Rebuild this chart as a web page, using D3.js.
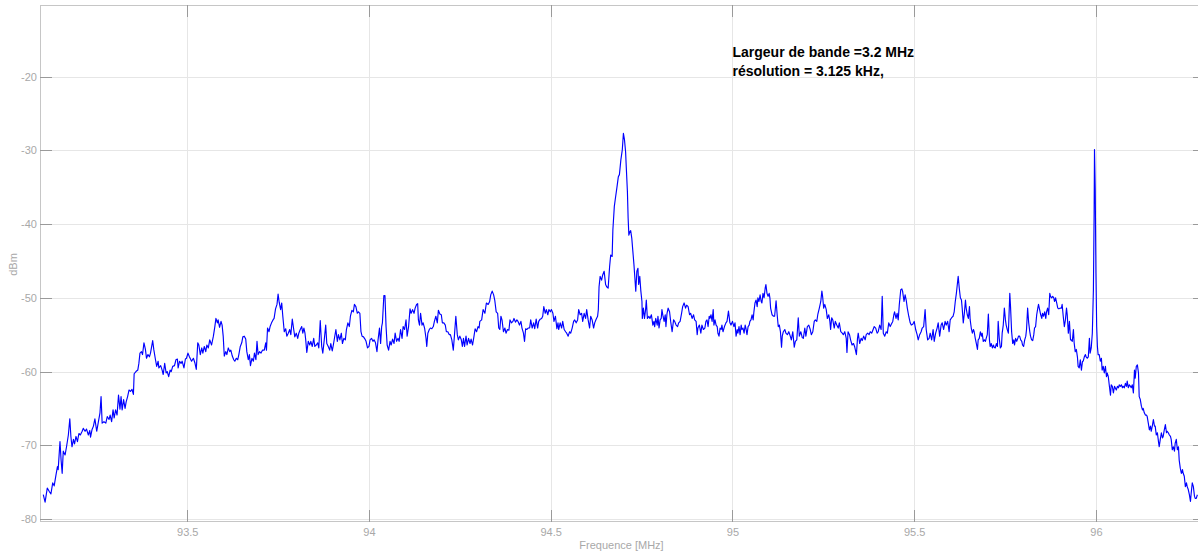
<!DOCTYPE html>
<html>
<head>
<meta charset="utf-8">
<script src="https://cdn.jsdelivr.net/npm/d3@7"></script>
<style>
html, body { margin: 0; padding: 0; background: #fff; overflow: hidden; }
svg { display: block; }
text { font-family: "Liberation Sans", Arial, Helvetica, sans-serif; }
</style>
</head>
<body>
<svg id="chart" width="1198" height="554"></svg>
<script>
// Measured spectrum: [frequency (MHz), level (dBm)]
const spectrumPoints = [
[93.104,-76.7],[93.109,-77.7],[93.115,-75.8],[93.121,-76.3],[93.125,-76.6],[93.130,-75.1],[93.134,-75.5],[93.139,-74.0],
[93.143,-72.9],[93.145,-73.3],[93.150,-69.5],[93.153,-72.0],[93.156,-73.8],[93.159,-70.8],[93.164,-71.3],[93.168,-70.2],
[93.173,-68.6],[93.177,-66.4],[93.180,-68.8],[93.183,-70.2],[93.187,-69.2],[93.190,-69.8],[93.194,-68.8],[93.198,-69.5],
[93.202,-68.4],[93.206,-68.6],[93.211,-68.1],[93.214,-67.7],[93.219,-68.1],[93.223,-67.8],[93.228,-68.6],[93.232,-68.0],
[93.234,-68.9],[93.238,-67.9],[93.242,-67.4],[93.246,-66.4],[93.251,-68.1],[93.255,-67.0],[93.260,-65.6],[93.263,-63.4],
[93.266,-67.0],[93.271,-66.8],[93.276,-67.0],[93.280,-66.1],[93.285,-66.5],[93.288,-65.9],[93.292,-66.8],[93.296,-65.2],
[93.299,-66.3],[93.303,-65.2],[93.307,-65.9],[93.311,-63.2],[93.315,-65.1],[93.318,-63.4],[93.321,-65.2],[93.325,-63.8],
[93.329,-65.0],[93.332,-64.1],[93.336,-63.4],[93.340,-62.5],[93.344,-62.7],[93.348,-62.4],[93.352,-63.1],[93.354,-60.3],
[93.359,-60.0],[93.364,-59.8],[93.367,-58.9],[93.370,-57.5],[93.374,-57.3],[93.377,-57.7],[93.381,-56.1],[93.385,-57.0],
[93.388,-58.2],[93.392,-57.7],[93.396,-58.0],[93.399,-57.5],[93.405,-55.8],[93.408,-57.0],[93.412,-58.2],[93.416,-59.3],
[93.420,-58.6],[93.422,-59.5],[93.427,-59.2],[93.431,-59.8],[93.434,-60.4],[93.438,-58.9],[93.442,-60.2],[93.445,-60.0],
[93.449,-60.7],[93.453,-59.8],[93.456,-60.0],[93.460,-59.3],[93.465,-59.2],[93.469,-58.4],[93.473,-58.3],[93.475,-59.5],
[93.479,-58.6],[93.483,-58.9],[93.486,-58.6],[93.491,-59.5],[93.495,-58.3],[93.498,-58.2],[93.502,-57.5],[93.506,-58.0],
[93.512,-58.6],[93.517,-58.2],[93.521,-58.8],[93.525,-59.7],[93.529,-56.1],[93.532,-56.4],[93.536,-57.7],[93.540,-56.8],
[93.543,-57.5],[93.547,-56.6],[93.551,-57.3],[93.554,-56.4],[93.558,-56.8],[93.562,-55.7],[93.567,-56.4],[93.572,-55.2],
[93.576,-53.9],[93.579,-52.8],[93.583,-53.4],[93.585,-53.0],[93.589,-54.0],[93.593,-53.2],[93.596,-53.7],[93.599,-55.2],
[93.602,-57.9],[93.606,-57.3],[93.609,-57.7],[93.613,-56.8],[93.617,-57.3],[93.620,-57.1],[93.624,-57.9],[93.628,-58.4],
[93.631,-58.6],[93.635,-58.2],[93.639,-58.4],[93.642,-57.7],[93.646,-56.6],[93.650,-56.1],[93.653,-55.3],[93.657,-55.2],
[93.661,-55.6],[93.664,-57.3],[93.668,-58.4],[93.671,-57.7],[93.674,-59.2],[93.678,-58.2],[93.682,-58.6],[93.685,-57.5],
[93.689,-58.4],[93.692,-55.9],[93.695,-57.7],[93.699,-57.3],[93.703,-57.5],[93.707,-57.1],[93.712,-57.1],[93.716,-56.1],
[93.718,-57.1],[93.721,-54.1],[93.725,-54.6],[93.728,-53.9],[93.732,-53.4],[93.736,-53.0],[93.739,-52.8],[93.743,-51.5],
[93.747,-50.9],[93.750,-49.5],[93.753,-50.6],[93.757,-51.6],[93.760,-50.7],[93.763,-52.5],[93.767,-54.6],[93.771,-54.2],
[93.774,-55.2],[93.778,-54.8],[93.782,-54.3],[93.785,-55.0],[93.789,-52.9],[93.793,-54.3],[93.796,-55.3],[93.800,-54.8],
[93.804,-55.5],[93.807,-54.8],[93.811,-54.3],[93.815,-53.9],[93.818,-54.8],[93.821,-54.1],[93.824,-54.8],[93.826,-55.7],
[93.829,-57.4],[93.833,-55.9],[93.837,-56.4],[93.840,-55.9],[93.844,-56.6],[93.848,-55.5],[93.851,-56.6],[93.855,-56.4],
[93.859,-56.1],[93.862,-56.8],[93.866,-53.1],[93.870,-56.6],[93.873,-57.5],[93.877,-55.7],[93.881,-53.7],[93.884,-56.2],
[93.888,-56.6],[93.892,-57.1],[93.895,-56.2],[93.899,-57.2],[93.902,-56.4],
[93.909,-54.3],[93.913,-55.9],[93.916,-55.0],[93.920,-55.7],[93.924,-54.8],[93.927,-56.2],[93.931,-55.5],[93.935,-55.7],
[93.938,-54.3],[93.942,-53.4],[93.946,-53.9],[93.949,-52.5],[93.953,-51.7],[93.957,-51.9],[93.960,-50.9],[93.964,-51.2],
[93.968,-52.1],[93.971,-51.9],[93.975,-52.1],[93.978,-54.6],[93.981,-55.2],[93.985,-55.3],[93.989,-55.6],[93.992,-55.9],
[93.996,-56.8],[94.000,-56.6],[94.003,-55.7],[94.007,-55.5],[94.011,-55.9],[94.014,-55.7],[94.018,-56.1],[94.022,-57.3],
[94.025,-55.7],[94.029,-54.1],[94.032,-56.2],[94.035,-53.9],[94.037,-53.4],[94.041,-49.7],[94.044,-49.7],[94.047,-53.9],
[94.050,-56.4],[94.054,-57.1],[94.058,-55.9],[94.061,-56.4],[94.065,-55.6],[94.069,-56.2],[94.072,-54.8],[94.076,-55.9],
[94.080,-55.5],[94.083,-55.9],[94.087,-54.3],[94.091,-55.5],[94.094,-53.9],[94.098,-54.3],[94.102,-53.0],[94.105,-55.2],
[94.109,-53.9],[94.113,-51.5],[94.116,-52.1],[94.120,-51.6],[94.124,-52.1],[94.127,-51.4],[94.131,-50.9],[94.134,-50.8],
[94.136,-53.0],[94.139,-53.7],[94.142,-52.1],[94.146,-53.7],[94.149,-53.4],[94.153,-54.1],[94.157,-55.5],[94.159,-56.6],
[94.162,-54.8],[94.166,-54.3],[94.169,-54.1],[94.173,-54.2],[94.177,-53.9],[94.180,-53.2],[94.184,-52.5],[94.188,-53.4],
[94.191,-51.7],[94.195,-52.2],[94.199,-52.3],[94.202,-53.4],[94.206,-53.4],[94.210,-53.7],[94.213,-54.6],[94.217,-54.6],
[94.221,-55.0],[94.224,-55.0],[94.228,-55.7],[94.232,-57.1],[94.235,-55.2],[94.239,-52.5],[94.243,-55.0],[94.246,-55.7],
[94.250,-55.2],[94.254,-55.7],[94.257,-56.6],[94.260,-55.5],[94.263,-56.6],[94.267,-55.2],[94.270,-56.4],[94.274,-55.5],
[94.278,-56.2],[94.281,-55.6],[94.285,-56.4],[94.289,-55.2],[94.292,-54.2],[94.296,-54.6],[94.300,-53.9],[94.303,-54.1],
[94.305,-53.2],[94.310,-53.0],[94.314,-51.6],[94.319,-52.1],[94.323,-50.7],[94.328,-50.9],[94.332,-50.5],[94.335,-49.6],
[94.339,-49.1],[94.343,-49.6],[94.346,-50.3],[94.350,-51.9],[94.354,-52.1],[94.357,-54.1],[94.360,-54.3],[94.363,-52.5],
[94.366,-53.0],[94.370,-54.6],[94.374,-54.1],[94.377,-54.8],[94.381,-54.3],[94.385,-54.4],[94.388,-53.0],[94.392,-53.4],
[94.396,-53.2],[94.399,-52.8],[94.403,-53.3],[94.407,-53.0],[94.410,-53.2],[94.414,-53.7],[94.418,-53.2],[94.421,-54.1],
[94.425,-54.8],[94.428,-55.9],[94.431,-54.2],[94.434,-54.3],[94.438,-54.1],[94.442,-54.1],[94.445,-53.0],[94.449,-54.1],
[94.453,-53.4],[94.456,-54.2],[94.460,-52.9],[94.464,-54.1],[94.467,-53.2],[94.471,-52.9],[94.475,-52.8],[94.478,-52.5],
[94.481,-51.2],[94.485,-52.1],[94.488,-51.6],[94.492,-52.3],[94.495,-51.6],[94.499,-51.9],[94.502,-51.6],[94.506,-52.1],
[94.509,-53.2],[94.513,-52.5],[94.517,-54.2],[94.520,-53.4],[94.522,-54.3],[94.526,-53.4],[94.530,-54.1],[94.533,-53.2],
[94.537,-54.3],[94.541,-54.6],[94.544,-54.8],[94.548,-55.2],[94.552,-54.6],[94.555,-54.8],[94.559,-54.1],[94.563,-53.2],
[94.566,-53.0],[94.570,-53.4],[94.574,-53.0],[94.577,-51.6],[94.581,-52.3],[94.585,-52.1],[94.588,-53.2],[94.592,-52.1],
[94.596,-52.8],[94.599,-51.6],[94.603,-53.0],[94.607,-54.1],[94.610,-52.5],[94.614,-53.0],[94.618,-54.1],[94.621,-53.4],
[94.625,-52.9],[94.629,-52.5],[94.631,-51.6],[94.633,-48.5],[94.636,-47.1],[94.640,-47.6],[94.643,-46.9],[94.647,-46.4],
[94.651,-48.2],[94.654,-48.5],[94.658,-48.7],[94.662,-45.8],[94.665,-44.2],[94.669,-44.4],[94.671,-40.8],[94.675,-37.6],
[94.678,-36.5],[94.682,-35.1],[94.686,-33.6],[94.689,-33.3],[94.693,-31.3],[94.697,-29.9],[94.700,-27.7],
[94.703,-28.6],[94.706,-30.2],[94.708,-32.4],[94.711,-35.6],[94.713,-39.2],[94.715,-41.5],[94.718,-41.0],[94.720,-40.9],
[94.723,-41.9],[94.726,-43.7],[94.729,-45.5],[94.731,-46.9],[94.734,-49.1],[94.737,-46.4],[94.740,-46.0],[94.742,-48.2],
[94.745,-47.1],[94.748,-49.1],
[94.751,-50.5],[94.752,-52.8],[94.755,-51.4],[94.758,-52.8],[94.761,-51.6],[94.763,-50.3],[94.766,-52.8],[94.770,-52.5],
[94.773,-52.8],[94.777,-52.3],[94.781,-53.7],[94.784,-53.2],[94.786,-53.9],[94.789,-52.8],[94.793,-53.7],[94.795,-52.5],
[94.798,-54.1],[94.801,-53.0],[94.804,-52.8],[94.806,-51.6],[94.809,-52.5],[94.812,-53.2],[94.815,-52.3],[94.817,-53.9],
[94.820,-52.1],[94.823,-51.4],[94.827,-51.9],[94.830,-53.2],[94.834,-54.6],[94.838,-53.0],[94.841,-53.2],[94.845,-53.7],
[94.849,-53.9],[94.852,-53.4],[94.856,-53.2],[94.860,-52.1],[94.863,-51.2],[94.867,-50.7],[94.871,-51.4],[94.874,-51.0],
[94.878,-51.2],[94.882,-52.3],[94.885,-52.1],[94.889,-52.8],[94.893,-52.3],[94.896,-53.0],[94.900,-53.2],[94.903,-55.0],
[94.905,-54.1],[94.909,-53.7],[94.913,-54.8],[94.916,-53.7],[94.920,-54.3],[94.924,-54.1],[94.927,-53.2],[94.930,-53.0],
[94.933,-53.9],[94.936,-52.5],[94.938,-52.8],[94.941,-52.3],[94.944,-53.2],[94.947,-51.6],[94.949,-53.7],[94.952,-53.0],
[94.955,-53.7],[94.958,-53.9],[94.960,-54.8],[94.963,-55.2],[94.966,-54.1],[94.969,-54.3],[94.971,-53.7],[94.974,-54.6],
[94.978,-53.9],[94.982,-53.4],[94.985,-53.2],[94.989,-51.8],[94.993,-53.4],[94.996,-53.7],[95.000,-53.2],[95.004,-53.9],
[95.007,-53.4],[95.010,-55.2],[95.013,-54.3],[95.015,-54.8],[95.018,-53.9],[95.021,-55.0],[95.024,-53.7],[95.026,-54.3],
[95.029,-54.1],[95.032,-54.8],[95.035,-53.7],[95.037,-54.1],[95.040,-55.0],[95.043,-53.9],[95.046,-53.7],[95.048,-53.2],
[95.051,-53.0],[95.054,-52.3],[95.057,-53.0],[95.059,-51.9],[95.062,-50.7],[95.065,-50.3],[95.068,-51.2],[95.070,-50.0],
[95.073,-50.5],[95.076,-49.6],[95.079,-50.5],[95.081,-50.7],[95.084,-49.4],[95.087,-50.0],[95.090,-48.7],[95.092,-48.2],
[95.095,-49.4],[95.098,-49.8],[95.101,-49.4],
[95.103,-50.0],[95.105,-51.4],[95.109,-52.3],[95.113,-52.5],[95.116,-52.5],[95.120,-50.4],[95.123,-52.3],[95.126,-53.9],
[95.129,-53.7],[95.132,-54.6],[95.135,-56.7],[95.137,-55.2],[95.140,-54.6],[95.144,-54.3],[95.147,-54.8],[95.151,-55.0],
[95.155,-54.6],[95.159,-55.2],[95.162,-55.7],[95.166,-54.6],[95.170,-56.7],[95.173,-55.9],[95.177,-55.7],[95.181,-52.7],
[95.184,-55.2],[95.188,-54.6],[95.192,-55.4],[95.195,-55.5],[95.199,-54.1],[95.202,-55.2],[95.206,-53.9],[95.210,-53.7],
[95.214,-54.3],[95.217,-55.0],[95.221,-54.6],[95.225,-53.2],[95.228,-53.0],[95.232,-53.2],[95.235,-52.2],[95.239,-51.4],
[95.243,-50.5],[95.246,-49.1],[95.248,-49.8],[95.251,-51.4],[95.254,-50.9],[95.258,-51.6],[95.261,-52.8],[95.265,-52.3],
[95.268,-53.2],[95.270,-54.3],[95.273,-52.7],[95.276,-53.0],[95.280,-54.1],[95.283,-53.2],[95.287,-53.7],[95.291,-54.1],
[95.294,-53.4],[95.298,-54.6],[95.302,-54.8],[95.305,-55.0],[95.309,-54.6],[95.313,-55.5],[95.315,-57.4],[95.318,-54.6],
[95.322,-55.0],[95.325,-55.7],[95.329,-56.4],[95.333,-56.2],[95.336,-56.6],[95.341,-57.7],[95.344,-55.5],[95.346,-54.8],
[95.350,-56.2],[95.354,-55.5],[95.357,-55.8],[95.361,-55.2],[95.365,-55.7],[95.368,-55.0],[95.372,-54.8],[95.376,-55.0],
[95.379,-54.6],[95.383,-54.8],[95.387,-54.3],[95.390,-53.9],[95.394,-54.1],[95.398,-54.8],[95.401,-54.6],[95.405,-53.7],
[95.409,-54.3],[95.412,-49.8],[95.415,-54.8],[95.419,-55.2],[95.423,-54.6],[95.426,-54.8],[95.430,-53.4],[95.434,-53.9],
[95.437,-53.6],[95.441,-53.2],[95.444,-52.3],[95.446,-51.9],[95.450,-52.8],[95.453,-52.1],[95.456,-53.0],[95.459,-50.9],
[95.463,-48.9],[95.466,-48.8],[95.468,-49.1],[95.472,-50.5],[95.475,-49.6],[95.478,-50.3],[95.481,-51.4],[95.485,-52.5],
[95.489,-53.4],[95.492,-53.7],[95.496,-53.6],[95.500,-53.2],
[95.504,-54.3],[95.508,-55.0],[95.511,-55.7],[95.515,-55.0],[95.519,-54.6],[95.522,-54.1],[95.526,-53.9],[95.530,-51.6],
[95.533,-54.3],[95.537,-55.7],[95.541,-55.5],[95.544,-54.8],[95.548,-55.7],[95.552,-54.3],[95.555,-55.9],[95.559,-54.8],
[95.563,-54.1],[95.566,-53.4],[95.570,-55.2],[95.574,-53.7],[95.577,-53.4],[95.581,-54.3],[95.585,-53.2],[95.588,-53.7],
[95.592,-53.2],[95.596,-54.6],[95.599,-53.0],[95.603,-52.7],[95.607,-52.5],[95.610,-51.9],[95.613,-50.5],[95.616,-49.4],
[95.619,-48.0],[95.621,-47.1],[95.624,-48.7],[95.627,-50.0],[95.630,-50.3],[95.632,-51.4],[95.635,-53.4],[95.638,-52.1],
[95.641,-50.3],[95.643,-51.4],[95.646,-52.3],[95.649,-52.8],[95.652,-51.2],[95.654,-53.0],[95.657,-54.1],[95.660,-54.8],
[95.663,-54.3],[95.665,-54.6],[95.668,-55.5],[95.671,-56.2],[95.674,-57.0],[95.676,-55.7],[95.679,-55.5],[95.682,-54.6],
[95.685,-55.2],[95.687,-54.8],[95.690,-55.9],[95.693,-55.7],[95.696,-55.9],[95.698,-55.5],[95.701,-55.0],[95.704,-52.2],
[95.707,-55.7],[95.709,-56.6],[95.712,-56.2],[95.715,-56.8],[95.718,-56.4],[95.720,-56.7],[95.723,-56.8],[95.726,-56.2],
[95.729,-56.6],[95.731,-53.2],[95.734,-55.5],[95.737,-56.8],[95.740,-56.6],[95.742,-54.8],[95.745,-53.7],[95.748,-51.4],
[95.751,-53.0],[95.753,-53.7],[95.756,-54.3],[95.759,-54.8],[95.763,-49.4],[95.765,-51.2],[95.768,-54.6],[95.771,-56.2],
[95.774,-55.7],[95.776,-56.4],[95.779,-55.5],[95.782,-55.9],[95.785,-55.5],[95.787,-55.2],[95.790,-55.2],[95.793,-55.7],
[95.796,-55.9],[95.798,-56.4],[95.801,-56.6],[95.804,-55.7],[95.807,-55.2],[95.809,-54.3],[95.812,-51.4],[95.815,-53.4],
[95.818,-54.6],[95.820,-55.2],[95.823,-55.7],[95.826,-55.8],[95.829,-55.0],[95.831,-54.1],[95.834,-53.9],[95.837,-52.3],
[95.840,-51.4],[95.842,-50.9],[95.845,-51.6],[95.848,-52.3],[95.851,-52.8],[95.853,-52.1],[95.856,-52.5],[95.859,-51.9],
[95.862,-52.8],[95.864,-51.9],[95.867,-51.4],[95.870,-52.3],[95.873,-49.4],[95.875,-49.8],[95.878,-50.0],[95.881,-49.8],
[95.884,-50.0],[95.886,-50.5],[95.889,-50.0],[95.892,-50.7],[95.895,-51.4],[95.898,-51.5],
[95.901,-51.4],[95.905,-51.4],[95.907,-50.9],[95.910,-52.5],[95.913,-53.9],[95.916,-53.0],[95.919,-51.4],[95.921,-52.3],
[95.924,-54.8],[95.927,-53.2],[95.930,-55.7],[95.932,-55.7],[95.935,-55.9],[95.938,-54.3],[95.940,-56.1],[95.943,-57.3],
[95.946,-57.0],[95.949,-58.0],[95.951,-59.3],[95.954,-59.5],[95.957,-58.4],[95.960,-59.8],[95.963,-58.6],[95.965,-58.6],
[95.968,-58.0],[95.971,-57.7],[95.973,-58.0],[95.976,-58.2],[95.979,-58.0],[95.982,-55.5],[95.984,-57.5],[95.987,-56.8],
[95.990,-54.8],[95.993,-48.9],[95.995,-38.5],[95.996,-29.9],[95.998,-35.4],[96.000,-46.7],[96.002,-53.9],[96.004,-56.6],
[96.006,-57.7],[96.009,-57.7],[96.012,-58.6],[96.015,-58.2],[96.017,-59.8],[96.020,-59.3],[96.023,-60.2],[96.026,-59.3],
[96.029,-60.7],[96.031,-60.2],[96.034,-60.7],[96.037,-62.0],[96.040,-63.2],[96.042,-61.8],[96.045,-62.0],[96.048,-62.9],
[96.051,-62.0],[96.053,-62.2],[96.056,-62.5],[96.059,-62.0],[96.062,-62.2],[96.064,-61.8],[96.067,-62.0],[96.070,-61.8],
[96.073,-62.2],[96.075,-62.0],[96.078,-62.2],[96.081,-61.6],[96.084,-62.0],[96.086,-61.3],[96.089,-62.2],[96.092,-61.8],
[96.095,-62.0],[96.097,-62.2],[96.100,-61.8],[96.103,-62.9],[96.106,-59.8],[96.108,-60.9],[96.111,-59.3],[96.114,-59.1],
[96.117,-60.2],[96.119,-63.4],[96.122,-63.8],[96.125,-64.7],[96.128,-65.2],[96.130,-65.0],[96.133,-65.6],[96.136,-65.9],
[96.139,-65.9],[96.141,-66.1],[96.144,-67.0],[96.147,-67.9],[96.150,-67.4],[96.152,-68.1],[96.155,-67.4],[96.158,-66.5],
[96.161,-67.4],[96.163,-67.4],[96.166,-68.6],[96.169,-68.3],[96.172,-69.5],[96.174,-70.2],[96.177,-69.2],[96.180,-68.3],
[96.183,-69.0],[96.185,-68.8],[96.188,-67.9],[96.191,-67.2],[96.194,-68.3],[96.196,-68.1],[96.199,-68.3],[96.202,-68.6],
[96.205,-68.8],[96.207,-69.2],[96.210,-70.6],[96.213,-70.2],[96.216,-70.8],[96.218,-69.7],[96.221,-69.2],[96.224,-70.6],
[96.227,-70.2],[96.229,-72.0],[96.232,-73.1],[96.235,-73.8],[96.238,-73.3],[96.240,-73.8],[96.243,-74.2],[96.246,-75.6],
[96.249,-75.1],[96.251,-75.6],[96.254,-76.0],[96.257,-76.7],[96.260,-77.6],[96.262,-76.5],[96.265,-75.1],[96.268,-75.6],
[96.271,-76.9],[96.273,-77.2],[96.276,-77.2],[96.279,-76.7]
];

const xTickValues = [93.5, 94, 94.5, 95, 95.5, 96];
const yTickValues = [-80, -70, -60, -50, -40, -30, -20];
const xDomain = [93.095, 96.3];
const yDomain = [-80.4, -10.3];
const xLabel = "Frequence [MHz]";
const yLabel = "dBm";
const noteLines = ["Largeur de bande =3.2 MHz", "résolution = 3.125 kHz,"];
const noteAt = [95.0, -17.3];

// ---- layout ----
const plot = { left: 40, top: 5, right: 1205, bottom: 522 };
const svg = d3.select("#chart");

const x = d3.scaleLinear().domain(xDomain).range([plot.left, plot.right]);
const y = d3.scaleLinear().domain(yDomain).range([plot.bottom, plot.top]);

const gridColor = "#e6e6e6";
const boxColor = "#c6c6c6";
const tickColor = "#9a9a9a";
const labelColor = "#a8a8a8";
const plotH = plot.bottom - plot.top;
const plotW = plot.right - plot.left;

// grid
const gx = svg.append("g")
  .attr("transform", `translate(0,${plot.bottom})`)
  .call(d3.axisBottom(x).tickValues(xTickValues).tickSize(-plotH).tickFormat(""));
const gy = svg.append("g")
  .attr("transform", `translate(${plot.left},0)`)
  .call(d3.axisLeft(y).tickValues(yTickValues).tickSize(-plotW).tickFormat(""));
[gx, gy].forEach(g => {
  g.select(".domain").remove();
  g.selectAll("line").attr("stroke", gridColor).attr("shape-rendering", "crispEdges");
});

// spectrum trace
const clipId = "plot-clip";
svg.append("clipPath").attr("id", clipId)
  .append("rect").attr("x", plot.left).attr("y", plot.top)
  .attr("width", plotW).attr("height", plotH);

const line = d3.line().x(d => x(d[0])).y(d => y(d[1]));
svg.append("path")
  .datum(spectrumPoints)
  .attr("clip-path", `url(#${clipId})`)
  .attr("fill", "none")
  .attr("stroke", "#0000ff")
  .attr("stroke-width", 1.15)
  .attr("stroke-linejoin", "round")
  .attr("d", line);

// box
svg.append("rect")
  .attr("x", plot.left + 0.5).attr("y", plot.top + 0.5)
  .attr("width", plotW).attr("height", plotH - 1)
  .attr("fill", "none").attr("stroke", boxColor).attr("shape-rendering", "crispEdges");

// axes with inward ticks
const tickLen = 12;
function styleAxis(g) {
  g.select(".domain").remove();
  g.selectAll(".tick line").attr("stroke", tickColor).attr("shape-rendering", "crispEdges");
  g.selectAll(".tick text").attr("fill", labelColor).attr("font-size", 11);
}
const fmt = d => String(d);
svg.append("g").attr("transform", `translate(0,${plot.bottom})`)
  .call(d3.axisBottom(x).tickValues(xTickValues).tickSizeInner(-tickLen).tickSizeOuter(0).tickPadding(6).tickFormat(fmt))
  .call(styleAxis);
svg.append("g").attr("transform", `translate(0,${plot.top})`)
  .call(d3.axisTop(x).tickValues(xTickValues).tickSizeInner(-tickLen).tickSizeOuter(0).tickFormat(""))
  .call(styleAxis);
svg.append("g").attr("transform", `translate(${plot.left},0)`)
  .call(d3.axisLeft(y).tickValues(yTickValues).tickSizeInner(-tickLen).tickSizeOuter(0).tickPadding(3).tickFormat(fmt))
  .call(styleAxis);
svg.append("g").attr("transform", `translate(${plot.right},0)`)
  .call(d3.axisRight(y).tickValues(yTickValues).tickSizeInner(-tickLen).tickSizeOuter(0).tickFormat(""))
  .call(styleAxis);

// axis titles
svg.append("text")
  .attr("x", (plot.left + plot.right) / 2 - 1).attr("y", 549)
  .attr("text-anchor", "middle").attr("font-size", 11).attr("fill", labelColor)
  .text(xLabel);
svg.append("text")
  .attr("transform", `translate(17,${(plot.top + plot.bottom) / 2 + 1}) rotate(-90)`)
  .attr("text-anchor", "middle").attr("font-size", 11).attr("fill", labelColor)
  .text(yLabel);

// annotation
const note = svg.append("text")
  .attr("x", x(noteAt[0])).attr("y", y(noteAt[1]))
  .attr("font-size", 14).attr("font-weight", "bold").attr("fill", "#000");
noteLines.forEach((t, i) => {
  note.append("tspan").attr("x", x(noteAt[0])).attr("dy", i === 0 ? 0 : 19).text(t);
});
</script>
</body>
</html>
